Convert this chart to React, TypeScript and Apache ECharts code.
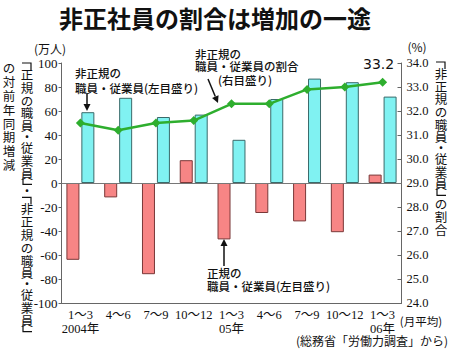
import React, { useEffect, useRef } from 'react';
import * as echarts from 'echarts';

const categories = ['1～3\n2004年', '4～6', '7～9', '10～12', '1～3\n05年', '4～6', '7～9', '10～12', '1～3\n06年'];
const regularChange = [-64, -12, -76, 19, -47, -25, -32, -41, 7];
const nonRegularChange = [59, 71, 55, 57, 36, 70, 87, 84, 72];
const nonRegularShare = [31.5, 31.2, 31.5, 31.6, 32.3, 32.3, 32.9, 33.0, 33.2];
const leftAxis = { min: -100, max: 100, interval: 20 };
const rightAxis = { min: 24, max: 34, interval: 1 };

const CJK = '"Noto Sans CJK JP", sans-serif';
const SERIF = '"Liberation Serif", "Noto Sans CJK JP", serif';
const INK = '#111';

// Vertical Japanese column: one text per character; corner brackets drawn as strokes.
function verticalColumn(text: string, cx: number, yTop: number, size: number, full: number, dot: number, bracket: number) {
  const els: any[] = [];
  let y = yTop;
  for (const ch of Array.from(text)) {
    if (ch === '「') {
      const yb = y + 2;
      els.push({ type: 'polyline', silent: true, shape: { points: [[cx - 5, yb], [cx + 4, yb], [cx + 4, yb + 7]] }, style: { stroke: INK, lineWidth: 1.2, fill: null } });
      y += bracket;
    } else if (ch === '」') {
      const ye = y + bracket - 2;
      els.push({ type: 'polyline', silent: true, shape: { points: [[cx - 4, ye - 7], [cx - 4, ye], [cx + 5, ye]] }, style: { stroke: INK, lineWidth: 1.2, fill: null } });
      y += bracket;
    } else {
      const adv = ch === '・' ? dot : full;
      els.push({
        type: 'text', x: cx, y: y + adv / 2, silent: true,
        style: { text: ch, fill: INK, font: `${size}px ${CJK}`, textAlign: 'center', textVerticalAlign: 'middle' },
      });
      y += adv;
    }
  }
  return els;
}

function arrow(x1: number, y1: number, x2: number, y2: number, head = 7, w = 3.5) {
  const dx = x2 - x1, dy = y2 - y1, L = Math.hypot(dx, dy);
  const ux = dx / L, uy = dy / L;
  const bx = x2 - ux * head, by = y2 - uy * head;
  const px = -uy, py = ux;
  return [
    { type: 'line', silent: true, shape: { x1, y1, x2: bx, y2: by }, style: { stroke: INK, lineWidth: 1.5 } },
    { type: 'polygon', silent: true, shape: { points: [[x2, y2], [bx + px * w, by + py * w], [bx - px * w, by - py * w]] }, style: { fill: INK } },
  ];
}

function txt(text: string, x: number, y: number, size: number, align = 'left', extra: any = {}) {
  return {
    type: 'text', x, y, silent: true,
    style: { text, fill: INK, font: `${extra.weight || 'normal'} ${size}px ${extra.family || CJK}`, textAlign: align, textVerticalAlign: 'middle' },
  };
}

export default function App() {
  const ref = useRef<HTMLDivElement>(null);
  useEffect(() => {
    if (!ref.current) return;
    const chart = echarts.init(ref.current, null, { renderer: 'svg' });
    const last = nonRegularShare.length - 1;
    const note = { weight: 500 };
    const option: any = {
      animation: false,
      backgroundColor: '#fff',
      grid: { left: 61.5, right: 48.5, top: 63, bottom: 46 },
      xAxis: {
        type: 'category',
        data: categories,
        axisLine: { show: true, onZero: false, lineStyle: { color: '#666', width: 1 } },
        axisTick: { show: false },
        axisLabel: { interval: 0, color: INK, fontFamily: SERIF, fontSize: 12.5, lineHeight: 14, margin: 5 },
      },
      yAxis: [
        {
          type: 'value', position: 'left', ...leftAxis,
          axisLine: { show: true, lineStyle: { color: '#666' } },
          axisTick: { show: true, inside: false, length: 3, lineStyle: { color: '#666' } },
          axisLabel: { color: INK, fontFamily: SERIF, fontSize: 13, margin: 4 },
          splitLine: { show: false },
        },
        {
          type: 'value', position: 'right', ...rightAxis,
          axisLine: { show: true, lineStyle: { color: '#666' } },
          axisTick: { show: true, inside: true, length: 4, lineStyle: { color: '#666' } },
          axisLabel: { color: INK, fontFamily: SERIF, fontSize: 12.5, margin: 5, formatter: (v: number) => v.toFixed(1) },
          splitLine: { show: false },
        },
      ],
      series: [
        {
          type: 'bar', yAxisIndex: 0, data: regularChange, barWidth: 13, barGap: '15%',
          itemStyle: { color: '#f78585', borderColor: '#7a3838', borderWidth: 1 },
          markLine: {
            silent: true, symbol: ['none', 'none'], label: { show: false },
            lineStyle: { color: '#777', width: 1, type: 'solid' },
            data: [{ yAxis: 0 }],
          },
        },
        {
          type: 'bar', yAxisIndex: 0, data: nonRegularChange, barWidth: 13, barGap: '15%',
          itemStyle: { color: '#80f2f2', borderColor: '#3a6a6a', borderWidth: 1 },
        },
        {
          type: 'line', yAxisIndex: 1, z: 5,
          data: nonRegularShare.map((v, i) => i === last ? {
            value: v,
            label: { show: true, position: 'top', distance: 7, offset: [-4, 0], formatter: v.toFixed(1), color: INK, fontSize: 14, fontFamily: '"DejaVu Sans", sans-serif' },
          } : v),
          symbol: 'diamond', symbolSize: 9,
          lineStyle: { color: '#2eae2e', width: 2.5 },
          itemStyle: { color: '#2eae2e' },
        },
      ],
      graphic: [
        txt('非正社員の割合は増加の一途', 215, 17, 24, 'center', { weight: 'bold' }),
        txt('(万人)', 50, 48, 12, 'center'),
        txt('(%)', 417, 46, 12, 'center'),
        txt('(月平均)', 421, 321, 11.5, 'center'),
        txt('(総務省「労働力調査」から)', 448, 340.5, 12, 'right'),
        txt('非正規の', 75, 73, 11.5, 'left', note),
        txt('職員・従業員(左目盛り)', 75, 87.5, 11.5, 'left', note),
        txt('非正規の', 195, 53.5, 11.5, 'left', note),
        txt('職員・従業員の割合', 195, 66, 11.5, 'left', note),
        txt('(右目盛り)', 218, 80, 11.5, 'left', note),
        txt('正規の', 207, 273, 11.5, 'left', note),
        txt('職員・従業員(左目盛り)', 207, 286, 11.5, 'left', note),
        ...arrow(87, 93, 87, 111),
        ...arrow(208, 79, 218, 103),
        ...arrow(224, 266, 224, 239),
        ...verticalColumn('「正規の職員・従業員」・「非正規の職員・従業員」', 27, 61, 12.5, 12.8, 9, 7),
        ...verticalColumn('の対前年同期増減', 9, 61, 12.5, 13.8, 9, 7),
        ...verticalColumn('「非正規の職員・従業員」の割合', 441, 60, 12.5, 12.7, 9, 7),
      ],
    };
    chart.setOption(option);
    return () => chart.dispose();
  }, []);
  return <div ref={ref} style={{ position: 'fixed', left: 0, top: 0, width: 450, height: 349, background: '#fff' }} />;
}
